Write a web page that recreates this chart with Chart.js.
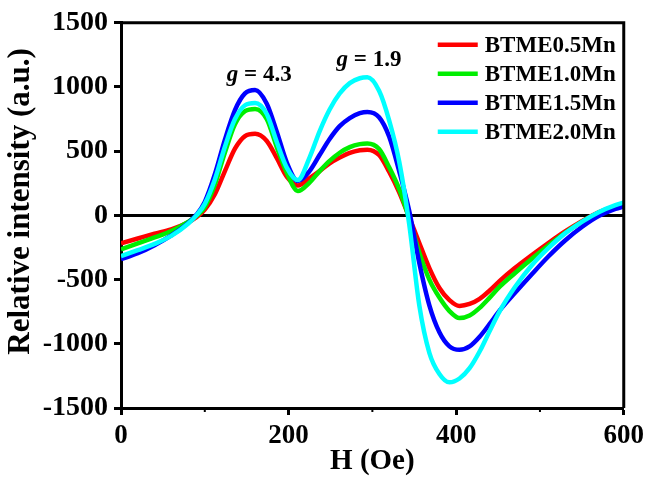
<!DOCTYPE html>
<html>
<head>
<meta charset="utf-8">
<script src="https://cdn.jsdelivr.net/npm/chart.js@4.4.0/dist/chart.umd.min.js"></script>
<style>
  html, body { margin: 0; padding: 0; background: #fff; }
</style>
</head>
<body>
<canvas id="eprChart" width="649" height="481"></canvas>
<script>
// Magnetic field (Oe), shared by all four spectra
const fieldH = [0, 20, 40, 60, 80, 90, 100, 112, 124, 136, 148, 160, 174, 186, 198, 211,
  225, 237, 249, 261, 273, 285, 294, 308, 320, 332, 344, 356, 368, 380, 392, 404,
  416, 428, 440, 452, 470, 490, 510, 530, 550, 570, 590, 600];

// Relative intensity (a.u.)
const btme05 = [-217, -180, -143, -108, -55, -15, 45, 165, 345, 520, 618, 636, 580, 445, 300, 233,
  290, 345, 405, 450, 487, 508, 512, 470, 340, 180, -15, -215, -410, -565, -660, -705,
  -690, -650, -585, -510, -410, -310, -215, -125, -45, 25, 72, 90];
const btme10 = [-264, -217, -172, -122, -50, -5, 65, 240, 490, 710, 812, 829, 750, 530, 330, 190,
  256, 345, 425, 488, 532, 555, 560, 517, 375, 205, -25, -290, -500, -640, -745, -800,
  -780, -720, -640, -555, -450, -340, -235, -135, -50, 20, 65, 82];
const btme15 = [-341, -295, -232, -155, -60, 5, 105, 320, 590, 820, 950, 977, 870, 650, 410, 268,
  345, 470, 595, 695, 758, 796, 806, 765, 615, 345, 35, -370, -700, -910, -1020, -1047,
  -1020, -945, -845, -740, -605, -460, -320, -195, -90, -5, 50, 70];
const btme20 = [-318, -271, -222, -160, -65, 0, 90, 280, 535, 750, 858, 876, 790, 570, 370, 275,
  450, 655, 825, 950, 1030, 1068, 1075, 970, 740, 420, -70, -700, -1070, -1235, -1300, -1270,
  -1190, -1060, -900, -745, -560, -390, -255, -140, -50, 25, 80, 100];

const seriesNames = ['BTME0.5Mn', 'BTME1.0Mn', 'BTME1.5Mn', 'BTME2.0Mn'];
const seriesColors = ['#ff0000', '#00ee00', '#0000ff', '#00ffff'];
const gFactors = ['4.3', '1.9'];
const yTitle = 'Relative intensity (a.u.)';

const FONT = "'Liberation Serif', 'Times New Roman', serif";

function toPoints(values) {
  return values.map((v, i) => ({ x: fieldH[i], y: v }));
}

// Box frame, minor ticks, y title, inside legend and g-factor labels
const figureExtras = {
  id: 'figureExtras',
  afterDatasetsDraw(chart) {
    const { ctx, chartArea: a, scales } = chart;
    ctx.save();
    ctx.strokeStyle = '#000';
    ctx.lineWidth = 3;
    ctx.beginPath();
    ctx.moveTo(a.left, a.top);
    ctx.lineTo(a.right, a.top);
    ctx.lineTo(a.right, a.bottom);
    ctx.stroke();

    // minor ticks on H axis
    ctx.lineWidth = 2;
    [100, 300, 500].forEach(v => {
      const px = scales.x.getPixelForValue(v);
      ctx.beginPath();
      ctx.moveTo(px, a.bottom);
      ctx.lineTo(px, a.bottom + 4);
      ctx.stroke();
    });

    // y axis title, sits a little above the plot centre in the original
    ctx.save();
    ctx.translate(21, (a.top + a.bottom) / 2 - 14);
    ctx.rotate(-Math.PI / 2);
    ctx.font = 'bold 31px ' + FONT;
    ctx.fillStyle = '#000';
    ctx.textAlign = 'center';
    ctx.textBaseline = 'middle';
    ctx.fillText(yTitle, 0, 0);
    ctx.restore();

    // legend
    ctx.font = 'bold 23px ' + FONT;
    ctx.textBaseline = 'middle';
    ctx.textAlign = 'left';
    seriesNames.forEach((name, i) => {
      const y = a.top + 22 + i * 29;
      ctx.strokeStyle = seriesColors[i];
      ctx.lineWidth = 4.5;
      ctx.beginPath();
      ctx.moveTo(a.right - 186, y);
      ctx.lineTo(a.right - 146, y);
      ctx.stroke();
      ctx.fillStyle = '#000';
      ctx.fillText(name, a.right - 139, y + 1);
    });

    // g labels above the two absorption peaks
    const anchors = [[165, 1047], [296, 1163]];
    ctx.textBaseline = 'alphabetic';
    gFactors.forEach((g, i) => {
      const cx = scales.x.getPixelForValue(anchors[i][0]);
      const by = scales.y.getPixelForValue(anchors[i][1]);
      ctx.font = 'italic bold 23px ' + FONT;
      const wg = ctx.measureText('g').width;
      ctx.font = 'bold 23px ' + FONT;
      const rest = ' = ' + g;
      const wr = ctx.measureText(rest).width;
      const x0 = cx - (wg + wr) / 2;
      ctx.font = 'italic bold 23px ' + FONT;
      ctx.fillText('g', x0, by);
      ctx.font = 'bold 23px ' + FONT;
      ctx.fillText(rest, x0 + wg, by);
    });
    ctx.restore();
  }
};

const seriesData = [btme05, btme10, btme15, btme20];

new Chart(document.getElementById('eprChart'), {
  type: 'line',
  data: {
    datasets: seriesData.map((vals, i) => ({
      label: seriesNames[i],
      data: toPoints(vals),
      borderColor: seriesColors[i],
      borderWidth: 4.5,
      pointRadius: 0,
      cubicInterpolationMode: 'monotone',
      fill: false,
      order: 4 - i
    }))
  },
  options: {
    responsive: false,
    animation: false,
    layout: { padding: { top: 21, right: 22, left: 0, bottom: 0 } },
    plugins: {
      legend: { display: false },
      tooltip: { enabled: false }
    },
    scales: {
      x: {
        type: 'linear',
        min: 0,
        max: 600,
        afterFit(scale) { scale.height = 73; },
        ticks: {
          stepSize: 200,
          color: '#000',
          padding: 5,
          font: { family: FONT, size: 27, weight: 'bold' },
          callback: v => String(v)
        },
        grid: { drawOnChartArea: false, tickLength: 7, tickWidth: 3, tickColor: '#000' },
        border: { color: '#000', width: 3 },
        title: {
          display: true,
          text: 'H (Oe)',
          color: '#000',
          padding: { top: 0, bottom: 2 },
          font: { family: FONT, size: 29, weight: 'bold' }
        }
      },
      y: {
        min: -1500,
        max: 1500,
        afterFit(scale) { scale.width = 121; },
        ticks: {
          stepSize: 500,
          color: '#000',
          padding: 6,
          font: { family: FONT, size: 28, weight: 'bold' },
          callback: v => String(v)
        },
        grid: {
          drawOnChartArea: true,
          color: c => (c.tick && c.tick.value === 0 ? '#000' : 'rgba(0,0,0,0)'),
          lineWidth: 3,
          tickLength: 7,
          tickWidth: 3,
          tickColor: '#000'
        },
        border: { color: '#000', width: 3 }
      }
    }
  },
  plugins: [figureExtras]
});
</script>
</body>
</html>
